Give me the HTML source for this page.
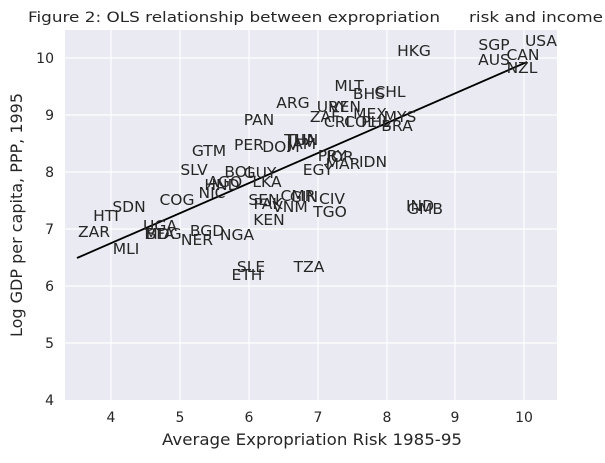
<!DOCTYPE html>
<html><head><meta charset="utf-8"><style>
body{margin:0;background:#fff;}
svg text{font-family:"DejaVu Sans","Liberation Sans",sans-serif;fill:#262626;}
.l{font-size:15.5px;text-anchor:middle;}
.t{font-size:14px;}
</style></head><body>
<svg width="605" height="458" viewBox="0 0 605 458">
<rect x="65" y="30" width="492" height="370" fill="#eaeaf2"/>
<g stroke="#fff" stroke-width="1.2">
<line x1="111" y1="30" x2="111" y2="400"/><line x1="180" y1="30" x2="180" y2="400"/>
<line x1="249" y1="30" x2="249" y2="400"/><line x1="318" y1="30" x2="318" y2="400"/>
<line x1="387" y1="30" x2="387" y2="400"/><line x1="455" y1="30" x2="455" y2="400"/>
<line x1="524" y1="30" x2="524" y2="400"/>
<line x1="65" y1="343" x2="557" y2="343"/><line x1="65" y1="286" x2="557" y2="286"/>
<line x1="65" y1="229" x2="557" y2="229"/><line x1="65" y1="172" x2="557" y2="172"/>
<line x1="65" y1="115" x2="557" y2="115"/><line x1="65" y1="58" x2="557" y2="58"/>
</g>
<g class="t" text-anchor="middle">
<text x="111" y="422">4</text><text x="180" y="422">5</text><text x="249" y="422">6</text>
<text x="318" y="422">7</text><text x="387" y="422">8</text><text x="455" y="422">9</text><text x="524" y="422">10</text>
</g>
<g class="t" text-anchor="end">
<text x="54" y="405">4</text><text x="54" y="348">5</text><text x="54" y="291">6</text>
<text x="54" y="234">7</text><text x="54" y="177">8</text><text x="54" y="120">9</text><text x="54" y="63">10</text>
</g>
<text x="162" y="445" font-size="16" textLength="300" lengthAdjust="spacingAndGlyphs">Average Expropriation Risk 1985-95</text>
<text transform="translate(22,215) rotate(-90)" font-size="16" text-anchor="middle">Log GDP per capita, PPP, 1995</text>
<text x="28" y="22" font-size="14" textLength="412" lengthAdjust="spacingAndGlyphs">Figure 2: OLS relationship between expropriation</text>
<text x="469" y="22" font-size="14" textLength="134" lengthAdjust="spacingAndGlyphs">risk and income</text>
<line x1="77" y1="258" x2="527" y2="62" stroke="#000" stroke-width="1.8"/>
<g class="l">
<text x="541" y="46">USA</text><text x="494" y="50">SGP</text><text x="523" y="60">CAN</text>
<text x="494" y="65">AUS</text><text x="522" y="73">NZL</text><text x="414" y="56">HKG</text>
<text x="349" y="91">MLT</text><text x="369" y="99">BHS</text><text x="390" y="97">CHL</text>
<text x="293" y="108">ARG</text><text x="332" y="112">URY</text><text x="345" y="112">VEN</text>
<text x="325" y="122">ZAF</text><text x="370" y="119">MEX</text><text x="400" y="122">MYS</text>
<text x="337" y="127">CRI</text><text x="360" y="127">COL</text><text x="376" y="127">PHL</text>
<text x="397" y="131">BRA</text><text x="259" y="125">PAN</text>
<text x="300" y="145">THA</text><text x="302" y="145">TUN</text><text x="281" y="152">DOM</text>
<text x="302" y="149">JAM</text><text x="249" y="150">PER</text><text x="209" y="156">GTM</text>
<text x="332" y="161">PRY</text><text x="340" y="162">JOR</text><text x="343" y="169">MAR</text>
<text x="373" y="167">IDN</text><text x="318" y="175">EGY</text><text x="194" y="175">SLV</text>
<text x="240" y="177">BOL</text><text x="260" y="178">GUY</text><text x="225" y="187">AGO</text>
<text x="222" y="190">HND</text><text x="212" y="198">NIC</text><text x="267" y="187">LKA</text>
<text x="177" y="205">COG</text><text x="264" y="205">SEN</text><text x="268" y="209">PAK</text>
<text x="298" y="201">CMR</text><text x="304" y="202">GIN</text><text x="290" y="212">VNM</text>
<text x="332" y="204">CIV</text><text x="330" y="217">TGO</text><text x="269" y="225">KEN</text>
<text x="129" y="212">SDN</text><text x="106" y="221">HTI</text><text x="160" y="231">UGA</text>
<text x="163" y="239">MDG</text><text x="160" y="239">BFA</text><text x="207" y="236">BGD</text>
<text x="237" y="240">NGA</text><text x="197" y="245">NER</text><text x="94" y="237">ZAR</text>
<text x="126" y="254">MLI</text><text x="420" y="211">IND</text><text x="425" y="214">GMB</text>
<text x="251" y="272">SLE</text><text x="247" y="280">ETH</text><text x="309" y="272">TZA</text>
</g>
</svg>
</body></html>
